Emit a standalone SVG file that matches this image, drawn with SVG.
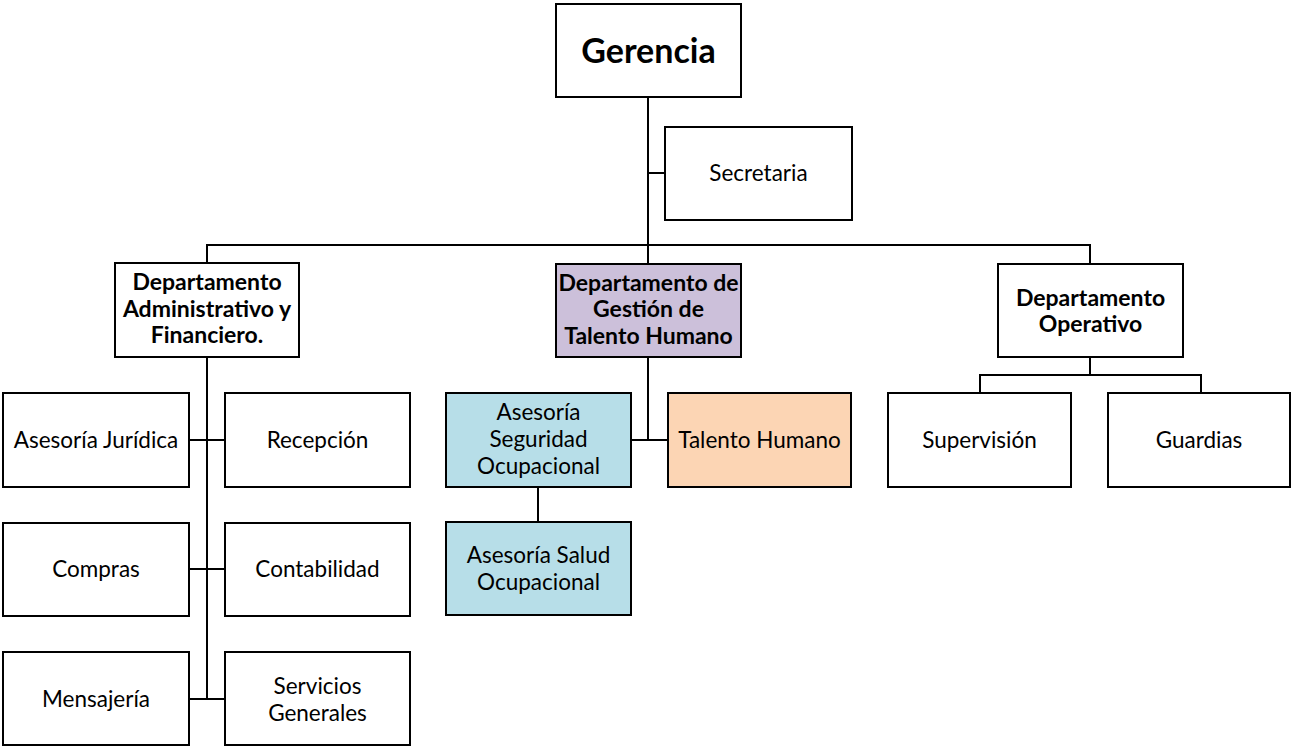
<svg xmlns="http://www.w3.org/2000/svg" width="1291" height="746" viewBox="0 0 1291 746">
  <style>
    .box { stroke: #000; stroke-width: 2; fill: #fff; }
    .lav { fill: #ccc0da; }
    .blue { fill: #b7dee8; }
    .peach { fill: #fcd5b4; }
    .conn { stroke: #000; stroke-width: 2; fill: none; }
    text { font-family: Lato, "Open Sans", sans-serif; fill: #000; text-anchor: middle; }
    .r { font-size: 22.5px; }
    .b { font-size: 23px; font-weight: bold; }
    .big { font-size: 34px; font-weight: bold; }
  </style>

  <g id="connectors">
    <!-- Gerencia trunk -->
    <path class="conn" d="M648 97 V264"/>
    <path class="conn" d="M648 173 H665"/>
    <!-- department bus -->
    <path class="conn" d="M207 263 V245 H1090 V264"/>
    <!-- administrative column -->
    <path class="conn" d="M207 357 V699"/>
    <path class="conn" d="M189 440 H225"/>
    <path class="conn" d="M189 569 H225"/>
    <path class="conn" d="M189 699 H225"/>
    <!-- talent management -->
    <path class="conn" d="M648 357 V440"/>
    <path class="conn" d="M631 440 H668"/>
    <path class="conn" d="M538 487 V522"/>
    <!-- operations -->
    <path class="conn" d="M1090 357 V375"/>
    <path class="conn" d="M980 393 V375 H1201 V393"/>
  </g>

  <g id="gerencia">
    <rect class="box" x="556" y="4" width="185" height="93"/>
    <text class="big" x="648.5" y="63">Gerencia</text>
  </g>

  <g id="secretaria">
    <rect class="box" x="665" y="127" width="187" height="93"/>
    <text class="r" x="758.5" y="181">Secretaria</text>
  </g>

  <g id="dep-administrativo">
    <rect class="box" x="115" y="263" width="184" height="94"/>
    <text class="b" x="207" y="290">Departamento</text>
    <text class="b" x="207" y="317">Administrativo y</text>
    <text class="b" x="207" y="343">Financiero.</text>
  </g>

  <g id="dep-talento">
    <rect class="box lav" x="556" y="264" width="185" height="93"/>
    <text class="b" x="648.5" y="291">Departamento de</text>
    <text class="b" x="648.5" y="317">Gestión de</text>
    <text class="b" x="648.5" y="344">Talento Humano</text>
  </g>

  <g id="dep-operativo">
    <rect class="box" x="998" y="264" width="185" height="93"/>
    <text class="b" x="1090.5" y="306">Departamento</text>
    <text class="b" x="1090.5" y="332">Operativo</text>
  </g>

  <g id="asesoria-juridica">
    <rect class="box" x="3" y="393" width="186" height="94"/>
    <text class="r" x="96" y="448">Asesoría Jurídica</text>
  </g>

  <g id="recepcion">
    <rect class="box" x="225" y="393" width="185" height="94"/>
    <text class="r" x="317.5" y="448">Recepción</text>
  </g>

  <g id="compras">
    <rect class="box" x="3" y="523" width="186" height="93"/>
    <text class="r" x="96" y="577">Compras</text>
  </g>

  <g id="contabilidad">
    <rect class="box" x="225" y="523" width="185" height="93"/>
    <text class="r" x="317.5" y="577">Contabilidad</text>
  </g>

  <g id="mensajeria">
    <rect class="box" x="3" y="652" width="186" height="93"/>
    <text class="r" x="96" y="707">Mensajería</text>
  </g>

  <g id="servicios-generales">
    <rect class="box" x="225" y="652" width="185" height="93"/>
    <text class="r" x="317.5" y="694">Servicios</text>
    <text class="r" x="317.5" y="721">Generales</text>
  </g>

  <g id="asesoria-seguridad">
    <rect class="box blue" x="446" y="393" width="185" height="94"/>
    <text class="r" x="538.5" y="420">Asesoría</text>
    <text class="r" x="538.5" y="447">Seguridad</text>
    <text class="r" x="538.5" y="474">Ocupacional</text>
  </g>

  <g id="talento-humano">
    <rect class="box peach" x="668" y="393" width="183" height="94"/>
    <text class="r" x="759.5" y="448">Talento Humano</text>
  </g>

  <g id="asesoria-salud">
    <rect class="box blue" x="446" y="522" width="185" height="93"/>
    <text class="r" x="538.5" y="563">Asesoría Salud</text>
    <text class="r" x="538.5" y="590">Ocupacional</text>
  </g>

  <g id="supervision">
    <rect class="box" x="888" y="393" width="183" height="94"/>
    <text class="r" x="979.5" y="448">Supervisión</text>
  </g>

  <g id="guardias">
    <rect class="box" x="1108" y="393" width="182" height="94"/>
    <text class="r" x="1199" y="448">Guardias</text>
  </g>
</svg>
